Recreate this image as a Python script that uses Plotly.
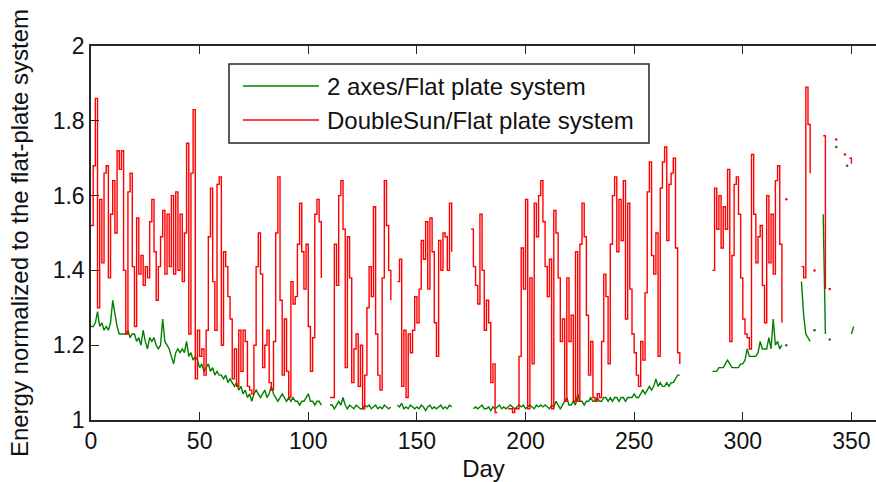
import plotly.graph_objects as go

N = None

# ---------------- data ----------------
days = list(range(0, 353))

doublesun_ratio = [
    1.52, 1.68, 1.86, 1.30, 1.59, 1.42, 1.66, 1.68, 1.38, 1.55,
    1.64, 1.50, 1.72, 1.67, 1.72, 1.40, 1.23, 1.61, 1.66, 1.41,
    1.25, 1.54, 1.39, 1.44, 1.36, 1.41, 1.38, 1.53, 1.59, 1.45,
    1.32, 1.41, 1.49, 1.56, 1.39, 1.55, 1.41, 1.60, 1.39, 1.61,
    1.40, 1.55, 1.37, 1.50, 1.74, 1.23, 1.66, 1.83, 1.11, 1.24,
    1.17, 1.19, 1.12, 1.24, 1.49, 1.62, 1.37, 1.24, 1.63, 1.65,
    1.20, 1.45, 1.41, 1.33, 1.27, 1.11, 1.19, 1.09, 1.24, 1.13,
    1.24, 1.21, 1.09, 1.08, 1.07, 1.20, 1.41, 1.50, 1.39, 1.14,
    1.20, 1.24, 1.10, 1.08, 1.21, 1.50, 1.65, 1.32, 1.12, 1.27,
    1.13, 1.06, 1.37, 1.31, 1.33, 1.47, 1.58, 1.45, 1.35, 1.47,
    1.25, 1.13, 1.22, 1.55, 1.59, 1.53, 1.38, N, N, N,
    1.06, 1.06, 1.47, 1.36, 1.60, 1.64, 1.51, 1.14, 1.49, 1.38,
    1.10, 1.19, 1.23, 1.09, 1.20, 1.03, 1.12, 1.30, 1.41, 1.33,
    1.57, 1.23, 1.12, 1.08, 1.38, 1.64, 1.52, 1.40, 1.32, N,
    N, 1.37, 1.43, 1.09, 1.24, 1.06, 1.23, 1.18, 1.24, 1.33,
    1.26, 1.35, 1.48, 1.43, 1.53, 1.35, 1.54, 1.45, 1.26, 1.17,
    1.48, 1.40, 1.50, 1.49, 1.40, 1.58, 1.45, N, N, N,
    N, N, N, N, N, 1.51, 1.41, 1.36, 1.31, 1.55,
    1.40, 1.24, 1.32, 1.26, 1.10, 1.15, 1.02, 1.02, N, 1.02,
    N, N, 1.03, 1.03, 1.02, 1.03, 1.03, 1.17, 1.46, 1.35,
    1.59, 1.03, 1.38, 1.15, 1.58, 1.49, 1.60, 1.64, 1.53, 1.41,
    1.33, 1.43, 1.03, 1.56, 1.50, 1.38, 1.21, 1.27, 1.05, 1.38,
    1.21, 1.28, 1.05, 1.45, 1.05, 1.47, 1.58, 1.49, 1.28, 1.12,
    1.21, 1.06, 1.05, 1.07, 1.06, 1.21, 1.39, 1.33, 1.15, 1.47,
    1.60, 1.65, 1.45, 1.59, 1.48, 1.64, 1.27, 1.58, 1.35, 1.23,
    1.18, 1.12, 1.09, 1.21, 1.16, 1.34, 1.61, 1.69, 1.44, 1.39,
    1.50, 1.17, 1.62, 1.69, 1.73, 1.48, 1.63, 1.66, 1.70, 1.46,
    1.18, 1.15, N, N, N, N, N, N, N, N,
    N, N, N, N, N, N, 1.40, 1.62, 1.51, 1.60,
    1.46, 1.57, 1.51, 1.67, 1.21, 1.44, 1.63, 1.65, 1.55, 1.38,
    1.27, 1.23, 1.22, 1.19, 1.71, 1.55, 1.42, 1.49, 1.52, 1.36,
    1.26, 1.60, 1.42, 1.55, 1.39, 1.64, 1.68, 1.47, 1.26, N,
    N, N, N, N, N, N, N, 1.41, 1.38, 1.89,
    1.79, 1.66, N, N, N, N, N, 1.76, 1.35, N,
    N, N, N, N, N, N, N, N, N, 1.70,
    1.685, N, N,
]

two_axes_ratio = [
    1.25, 1.25, 1.26, 1.29, 1.25, 1.26, 1.24, 1.25, 1.24, 1.26,
    1.32, 1.28, 1.25, 1.23, 1.23, 1.23, 1.23, 1.24, 1.22, 1.23,
    1.23, 1.21, 1.22, 1.20, 1.24, 1.21, 1.19, 1.22, 1.21, 1.22,
    1.20, 1.19, 1.20, 1.27, 1.21, 1.20, 1.19, 1.17, 1.15, 1.18,
    1.19, 1.18, 1.19, 1.18, 1.21, 1.17, 1.18, 1.16, 1.17, 1.16,
    1.14, 1.15, 1.13, 1.14, 1.15, 1.13, 1.14, 1.12, 1.13, 1.12,
    1.12, 1.11, 1.12, 1.10, 1.11, 1.10, 1.09, 1.10, 1.08, 1.09,
    1.07, 1.08, 1.06, 1.07, 1.05, 1.07, 1.08, 1.07, 1.06, 1.07,
    1.08, 1.06, 1.07, 1.09, 1.07, 1.06, 1.05, 1.06, 1.07, 1.06,
    1.05, 1.06, 1.05, 1.06, 1.05, 1.05, 1.04, 1.05, 1.05, 1.06,
    1.07, 1.05, 1.05, 1.04, 1.05, 1.05, 1.04, N, N, N,
    1.04, 1.04, 1.03, 1.04, 1.05, 1.04, 1.06, 1.04, 1.03, 1.04,
    1.035, 1.03, 1.04, 1.035, 1.03, 1.03, 1.04, 1.035, 1.04, 1.03,
    1.035, 1.04, 1.03, 1.035, 1.03, 1.04, 1.035, 1.03, 1.035, N,
    N, 1.04, 1.035, 1.045, 1.03, 1.035, 1.03, 1.04, 1.035, 1.03,
    1.035, 1.03, 1.04, 1.035, 1.025, 1.035, 1.04, 1.03, 1.035, 1.03,
    1.035, 1.04, 1.03, 1.035, 1.03, 1.04, 1.035, N, N, N,
    N, N, N, N, N, N, 1.03, 1.035, 1.03, 1.035,
    1.04, 1.03, 1.03, 1.035, 1.025, 1.035, 1.03, 1.035, 1.04, 1.03,
    1.035, 1.03, 1.035, 1.04, 1.035, 1.03, 1.035, 1.04, 1.035, 1.04,
    1.03, 1.035, 1.04, 1.035, 1.03, 1.04, 1.035, 1.04, 1.035, 1.04,
    1.035, 1.03, 1.04, 1.035, 1.05, 1.04, 1.03, 1.04, 1.05, 1.06,
    1.04, 1.04, 1.05, 1.04, 1.07, 1.05, 1.05, 1.04, 1.05, 1.05,
    1.06, 1.05, 1.05, 1.06, 1.05, 1.05, 1.06, 1.06, 1.05, 1.06,
    1.05, 1.06, 1.06, 1.05, 1.06, 1.06, 1.05, 1.06, 1.06, 1.06,
    1.07, 1.06, 1.06, 1.07, 1.08, 1.07, 1.08, 1.09, 1.08, 1.09,
    1.11, 1.09, 1.10, 1.09, 1.09, 1.10, 1.09, 1.10, 1.10, 1.11,
    1.12, 1.12, N, N, N, N, N, N, N, N,
    N, N, N, N, N, N, 1.13, 1.13, 1.13, 1.14,
    1.14, 1.14, 1.15, 1.16, 1.15, 1.14, 1.14, 1.14, 1.14, 1.15,
    1.15, 1.16, 1.19, 1.17, 1.17, 1.17, 1.17, 1.18, 1.21, 1.19,
    1.19, 1.19, 1.22, 1.19, 1.27, 1.20, 1.21, 1.19, 1.20, N,
    N, N, N, N, N, N, N, 1.37, 1.28, 1.23,
    1.22, 1.21, N, N, N, N, N, 1.55, 1.23, N,
    N, N, N, N, N, N, N, N, N, N,
    1.23, 1.25, N,
]

# isolated single-day values (drawn as dots)
doublesun_dot_days = [320, 333, 340, 343, 347]
doublesun_dot_vals = [1.59, 1.40, 1.35, 1.75, 1.71]
two_axes_dot_days = [320, 333, 340, 343, 348]
two_axes_dot_vals = [1.20, 1.24, 1.215, 1.73, 1.68]

x_ticks = [0, 50, 100, 150, 200, 250, 300, 350]
y_ticks = [1, 1.2, 1.4, 1.6, 1.8, 2]
y_tick_labels = ["1", "1.2", "1.4", "1.6", "1.8", "2"]

series_names = ["2 axes/Flat plate system", "DoubleSun/Flat plate system"]
GREEN = "#008000"
RED = "#ff0000"
AX = "#262626"
FONT = "Liberation Sans, Arial, sans-serif"

fig = go.Figure()
fig.add_trace(go.Scatter(x=days, y=two_axes_ratio, mode="lines", name=series_names[0],
                         line=dict(color=GREEN, width=1.4), showlegend=False))
fig.add_trace(go.Scatter(x=days, y=doublesun_ratio, mode="lines", name=series_names[1],
                         line=dict(color=RED, width=1.4, shape="hv"), showlegend=False))
fig.add_trace(go.Scatter(x=two_axes_dot_days, y=two_axes_dot_vals, mode="markers",
                         marker=dict(color=GREEN, size=2.5), showlegend=False, hoverinfo="skip"))
fig.add_trace(go.Scatter(x=doublesun_dot_days, y=doublesun_dot_vals, mode="markers",
                         marker=dict(color=RED, size=2.5), showlegend=False, hoverinfo="skip"))

# legend box drawn manually (paper coords of plot area)
fig.add_shape(type="rect", xref="paper", yref="paper", x0=0.1758, x1=0.7108, y0=0.7406, y1=0.9519,
              line=dict(color=AX, width=1.5), fillcolor="white", layer="above")
for yy, col, txt in [(0.893, GREEN, series_names[0]), (0.802, RED, series_names[1])]:
    fig.add_shape(type="line", xref="paper", yref="paper", x0=0.1936, x1=0.2904, y0=yy, y1=yy,
                  line=dict(color=col, width=1.5), layer="above")
    fig.add_annotation(xref="paper", yref="paper", x=0.2981, y=yy, text=txt, showarrow=False,
                       xanchor="left", yanchor="middle", font=dict(family=FONT, size=24, color="#111"))

fig.update_layout(
    width=876, height=482,
    margin=dict(l=91, r=0, t=46, b=62, autoexpand=False),
    paper_bgcolor="white", plot_bgcolor="white",
    font=dict(family=FONT, size=23, color="#111"),
    showlegend=False,
)
fig.update_xaxes(range=[0, 361.3], tickvals=x_ticks, ticks="inside", ticklen=8, tickcolor=AX,
                 showline=True, linecolor=AX, linewidth=1.5, mirror="ticks", showgrid=False, zeroline=False,
                 automargin=False,
                 title=dict(text="Day", font=dict(size=24), standoff=15))
fig.update_yaxes(range=[1, 2], tickvals=y_ticks, ticktext=y_tick_labels, ticks="inside", ticklen=8,
                 tickcolor=AX, showline=True, linecolor=AX, linewidth=1.5, mirror=False,
                 showgrid=False, zeroline=False, automargin=False,
                 title=dict(text="Energy normalized to the flat-plate system", font=dict(size=24), standoff=17))

fig.write_html("out.html")
